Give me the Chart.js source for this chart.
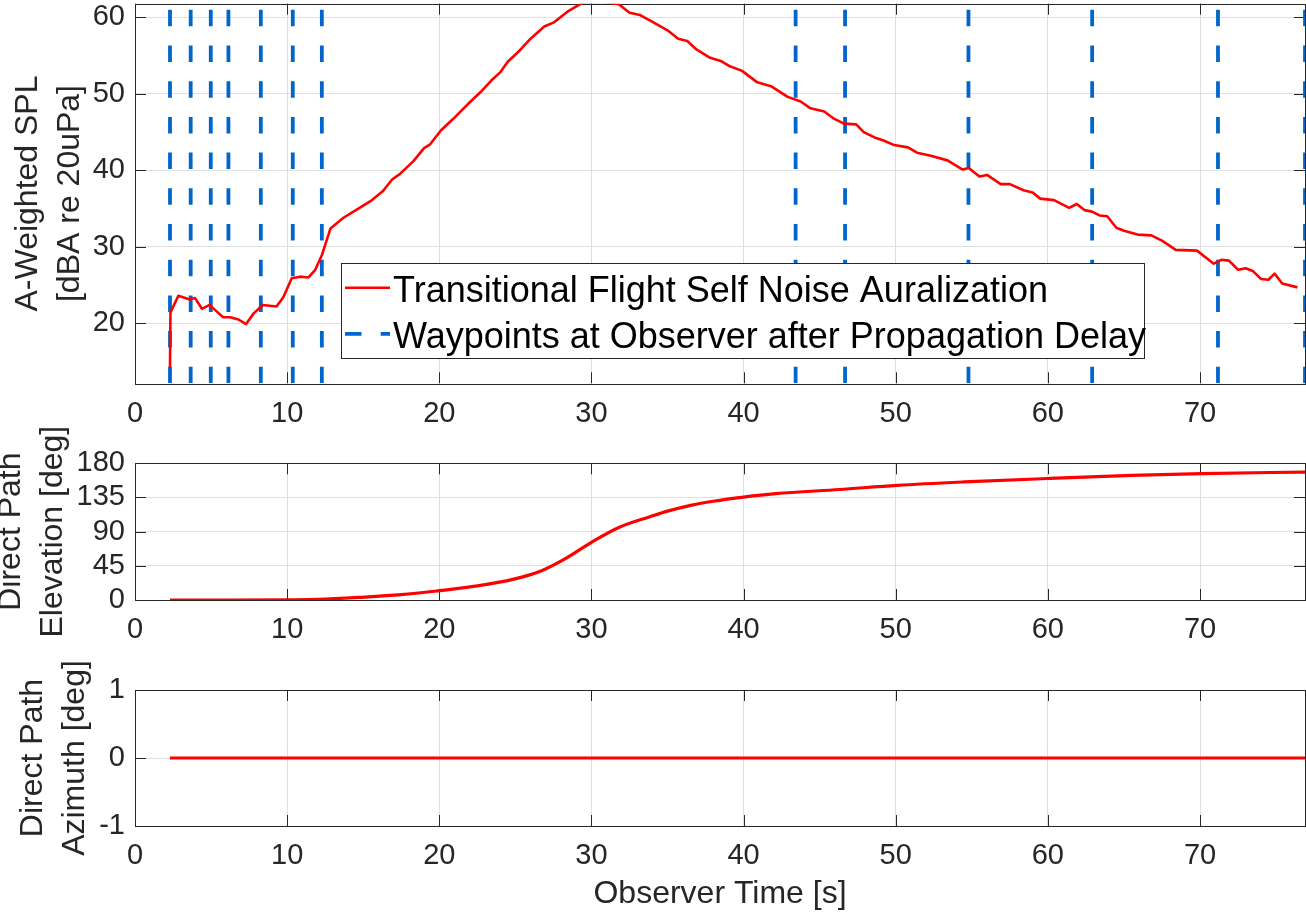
<!DOCTYPE html>
<html>
<head>
<meta charset="utf-8">
<title>Transitional flight self noise</title>
<script src="https://cdn.jsdelivr.net/npm/chart.js@4.4.1/dist/chart.umd.min.js"></script>
<style>
  html, body { margin: 0; padding: 0; background: #fff; }
  #page { position: relative; width: 1306px; height: 914px; overflow: hidden; }
  .panel { position: absolute; left: 0; }
</style>
</head>
<body>
<div id="page">
  <canvas id="chart-spl" class="panel" width="1306" height="440" style="top:0"></canvas>
  <canvas id="chart-elev" class="panel" width="1306" height="260" style="top:410px"></canvas>
  <canvas id="chart-az" class="panel" width="1306" height="274" style="top:640px"></canvas>
</div>
<script>
/* Auralization figure: SPL, elevation and azimuth vs observer time. */

const FONT = '"Liberation Sans", Arial, Helvetica, sans-serif';
const INK = '#262626';
const GRID = '#dfdfdf';
const RED = '#ff0000';
const BLUE = '#0066cc';

// ---- Data ----
const xMin = 0, xMax = 76.9;
const xTicks = [0, 10, 20, 30, 40, 50, 60, 70];

const splTime = [2.30, 2.33, 2.85, 3.6, 3.95, 4.4, 4.9, 5.4, 5.8, 6.25, 6.8, 7.3, 7.8, 8.4, 9.3, 9.75,
  10.3, 10.85, 11.4, 11.85, 12.3, 12.85, 13.7, 14.6, 15.5, 16.3, 16.9, 17.4, 18.3, 19.0, 19.4,
  20.1, 20.9, 21.8, 22.7, 23.4, 24.0, 24.5, 25.3, 26.0, 26.9, 27.5, 28.4, 29.4, 30.8, 31.8,
  32.5, 33.2, 34.1, 35.0, 35.7, 36.3, 36.9, 37.8, 38.5, 39.1, 39.9, 40.9, 41.8, 42.9, 43.75,
  44.4, 45.3, 45.9, 46.6, 47.4, 47.9, 48.6, 49.2, 49.9, 50.8, 51.4, 52.3, 53.4, 54.4, 54.8,
  55.5, 56.0, 56.9, 57.5, 58.4, 59.0, 59.5, 60.4, 61.4, 61.9, 62.4, 62.9, 63.4, 63.9, 64.5,
  65.0, 65.9, 66.8, 67.5, 68.4, 69.8, 70.9, 71.4, 71.9, 72.5, 73.0, 73.5, 74.0, 74.5, 74.9,
  75.4, 76.4];
const splLevel = [14.2, 21.4, 23.6, 23.1, 23.3, 21.9, 22.4, 21.5, 20.8, 20.8, 20.5, 19.9, 21.3, 22.4, 22.2, 23.4,
  25.9, 26.1, 26.0, 27.0, 29.0, 32.4, 33.8, 34.9, 36.0, 37.3, 38.8, 39.5, 41.2, 42.9, 43.4,
  45.2, 46.7, 48.5, 50.2, 51.7, 52.8, 54.2, 55.7, 57.2, 58.8, 59.3, 60.7, 61.9, 62.0, 61.7,
  60.6, 60.3, 59.3, 58.3, 57.2, 56.9, 55.8, 54.7, 54.3, 53.6, 53.0, 51.5, 51.0, 49.6, 49.0,
  48.1, 47.7, 46.8, 46.1, 46.0, 45.0, 44.3, 43.9, 43.3, 43.0, 42.3, 41.9, 41.3, 40.1, 40.3,
  39.2, 39.4, 38.2, 38.2, 37.4, 37.1, 36.3, 36.1, 35.1, 35.6, 34.8, 34.6, 34.1, 34.0, 32.5,
  32.1, 31.6, 31.5, 30.8, 29.6, 29.5, 27.8, 28.3, 28.2, 27.0, 27.2, 26.8, 25.8, 25.7, 26.5,
  25.2, 24.7];
const splMin = 12.16, splMax = 61.78;
const splTicks = [20, 30, 40, 50, 60];

const waypointTimes = [2.3, 3.66, 4.98, 6.14, 8.27, 10.37, 12.28, 43.42, 46.67, 54.78, 62.91, 71.18, 76.9];

const elevTime = [2.3, 6, 10, 12, 14.8, 17.5, 20.0, 22.5, 24.9, 26.6, 28.2, 30.0, 31.8, 33.9,
  35.0, 36.6, 38.0, 40.0, 42.1, 46.3, 50.1, 54.5, 60.0, 65.5, 70.1, 76.9];
const elevAngle = [0, 0, 0.3, 0.8, 3.5, 7, 12.3, 18.5, 27.5, 37.5, 53.5, 76.0, 95.5, 110,
  117, 125, 130, 135.5, 140, 145.5, 151, 155.5, 160, 164, 166.5, 168.5];
const elevTicks = [0, 45, 90, 135, 180];

const azTime = [2.3, 76.9];
const azAngle = [0, 0];
const azTicks = [-1, 0, 1];

const pairs = (xs, ys) => xs.map((x, i) => ({ x, y: ys[i] }));

// ---- Plugins: MATLAB style box with inward ticks, boxed legend ----
const matlabAxes = {
  id: 'matlabAxes',
  beforeDatasetsDraw(chart) {
    const { ctx, chartArea: a, scales: { x, y } } = chart;
    const len = 11;
    ctx.save();
    ctx.strokeStyle = INK;
    ctx.lineWidth = 1;
    ctx.beginPath();
    x.ticks.forEach(t => {
      const px = Math.round(x.getPixelForValue(t.value)) + 0.5;
      ctx.moveTo(px, a.bottom); ctx.lineTo(px, a.bottom - len);
      ctx.moveTo(px, a.top); ctx.lineTo(px, a.top + len);
    });
    y.ticks.forEach(t => {
      const py = Math.round(y.getPixelForValue(t.value)) + 0.5;
      ctx.moveTo(a.left, py); ctx.lineTo(a.left + len, py);
      ctx.moveTo(a.right, py); ctx.lineTo(a.right - len, py);
    });
    ctx.stroke();
    ctx.strokeRect(Math.round(a.left) + 0.5, Math.round(a.top) + 0.5, Math.round(a.width), Math.round(a.height));
    ctx.restore();
  }
};

const boxLegend = {
  id: 'boxLegend',
  afterDatasetsDraw(chart, args, opts) {
    if (!opts.show) return;
    const { ctx } = chart;
    ctx.save();
    ctx.fillStyle = '#fff';
    ctx.fillRect(opts.left, opts.top, opts.right - opts.left, opts.bottom - opts.top);
    ctx.strokeStyle = INK;
    ctx.lineWidth = 1;
    ctx.strokeRect(opts.left + 0.5, opts.top + 0.5, opts.right - opts.left, opts.bottom - opts.top);
    ctx.font = `36px ${FONT}`;
    ctx.fillStyle = '#000';
    ctx.textBaseline = 'alphabetic';
    chart.data.datasets.forEach((ds, i) => {
      const base = opts.baselines[i];
      const mid = base - 14.5;
      ctx.strokeStyle = ds.borderColor;
      ctx.lineWidth = ds.borderWidth;
      ctx.setLineDash(ds.borderDash || []);
      ctx.beginPath();
      ctx.moveTo(opts.sampleFrom, mid);
      ctx.lineTo(opts.sampleTo, mid);
      ctx.stroke();
      ctx.setLineDash([]);
      ctx.fillText(ds.label, opts.textX, base);
    });
    ctx.restore();
  }
};

// ---- Shared panel options ----
function panelOptions(p) {
  return {
    responsive: false,
    animation: false,
    layout: { padding: { top: p.top, left: 0, right: 1, bottom: 0 } },
    plugins: {
      legend: { display: false },
      tooltip: { enabled: false },
      boxLegend: p.legend || { show: false }
    },
    elements: { point: { radius: 0 }, line: { tension: 0, borderJoinStyle: 'round' } },
    scales: {
      x: {
        type: 'linear', min: xMin, max: xMax,
        afterBuildTicks: s => { s.ticks = xTicks.map(v => ({ value: v })); },
        afterFit: s => { s.height = p.xHeight; s.paddingLeft = 0; s.paddingRight = 0; },
        grid: { color: GRID, drawTicks: false },
        border: { display: false },
        ticks: { color: INK, font: { family: FONT, size: 29 }, padding: 13, maxRotation: 0, autoSkip: false },
        title: p.xTitle
          ? { display: true, text: p.xTitle, color: INK, font: { family: FONT, size: 32, lineHeight: 1.2 }, padding: { top: 0, bottom: 0.8 } }
          : { display: false }
      },
      y: {
        type: 'linear', min: p.yMin, max: p.yMax,
        afterBuildTicks: s => { s.ticks = p.yTicks.map(v => ({ value: v })); },
        afterFit: s => { s.width = 135; s.paddingTop = 0; s.paddingBottom = 0; },
        grid: { color: GRID, drawTicks: false },
        border: { display: false },
        ticks: { color: INK, font: { family: FONT, size: 29 }, padding: 10, autoSkip: false },
        title: { display: true, text: p.yTitle, color: INK, font: { family: FONT, size: 32, lineHeight: 1.3 }, padding: { top: p.titlePad, bottom: 0 } }
      }
    }
  };
}

// ---- Top: A-weighted SPL with waypoint markers ----
const waypointPoints = waypointTimes.flatMap(t => [{ x: t, y: splMin }, { x: t, y: splMax }, { x: t, y: null }]);

new Chart(document.getElementById('chart-spl'), {
  type: 'line',
  data: {
    datasets: [
      { label: 'Transitional Flight Self Noise Auralization', data: pairs(splTime, splLevel), borderColor: RED, borderWidth: 2.6 },
      { label: 'Waypoints at Observer after Propagation Delay', data: waypointPoints, borderColor: BLUE, borderWidth: 3.8, borderDash: [16.5, 19.2], spanGaps: false }
    ]
  },
  options: panelOptions({
    top: 3.7, xHeight: 56.7, yMin: splMin, yMax: splMax, yTicks: splTicks,
    yTitle: ['A-Weighted SPL', '[dBA re 20uPa]'], titlePad: 7.5,
    legend: { show: true, left: 341, top: 263, right: 1144, bottom: 358, sampleFrom: 345, sampleTo: 390, textX: 393, baselines: [302.3, 348.3] }
  }),
  plugins: [matlabAxes, boxLegend]
});

// ---- Middle: direct path elevation ----
new Chart(document.getElementById('chart-elev'), {
  type: 'line',
  data: { datasets: [{ label: 'Elevation', data: pairs(elevTime, elevAngle), borderColor: RED, borderWidth: 3.2, cubicInterpolationMode: 'monotone' }] },
  options: panelOptions({
    top: 53.3, xHeight: 70, yMin: 0, yMax: 180, yTicks: elevTicks,
    yTitle: ['Direct Path', 'Elevation [deg]'], titlePad: -9.3
  }),
  plugins: [matlabAxes]
});

// ---- Bottom: direct path azimuth ----
new Chart(document.getElementById('chart-az'), {
  type: 'line',
  data: { datasets: [{ label: 'Azimuth', data: pairs(azTime, azAngle), borderColor: RED, borderWidth: 3.2 }] },
  options: panelOptions({
    top: 50, xHeight: 88, yMin: -1, yMax: 1, yTicks: azTicks,
    yTitle: ['Direct Path', 'Azimuth [deg]'], titlePad: 12.5,
    xTitle: 'Observer Time [s]'
  }),
  plugins: [matlabAxes]
});
</script>
</body>
</html>
